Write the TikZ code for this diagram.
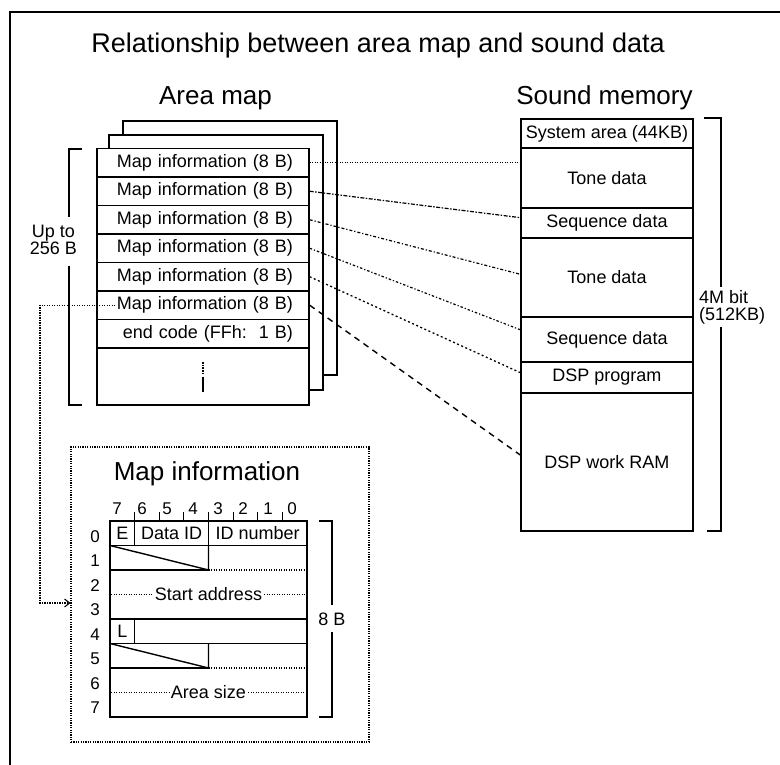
\documentclass[tikz,border=0pt]{standalone}
\usepackage{fontspec}
\setmainfont{Liberation Sans}
\usetikzlibrary{calc,arrows.meta}
\newcommand\sz[1]{\fontsize{#1}{#1}\selectfont}

\begin{document}
\begin{tikzpicture}[x=1pt,y=-1pt,
  frame/.style={line width=1.5pt},
  page/.style={draw,line width=1.5pt,fill=white},
  maprow/.style={draw,line width=1.4pt,fill=white,minimum height=28.5pt,
    text width=180pt,inner xsep=16pt,inner ysep=0pt,align=right,font=\sz{18}},
  memrow/.style={draw,line width=1.4pt,minimum width=172pt,inner sep=0pt,font=\sz{18}},
  cell/.style={draw,line width=1.4pt,inner sep=0pt,minimum height=24.5pt,font=\sz{18}},
  heading/.style={anchor=base,inner sep=0pt},
  txt/.style={font=\sz{18},inner sep=0pt},
  bitnum/.style={font=\sz{17},inner sep=0pt},
  bracket/.style={line width=1.5pt},
  rule/.style={line width=1.4pt},
  fine/.style={line width=1.1pt,dash pattern=on 1.2pt off 1.3pt},
  linkA/.style={line width=1.1pt,dash pattern=on 1.2pt off 1.3pt},
  linkB/.style={line width=1.2pt,dash pattern=on 4pt off 1.5pt on 1.5pt off 1.5pt},
  linkC/.style={line width=1.2pt,dash pattern=on 3pt off 2pt on 1.2pt off 2pt},
  linkD/.style={line width=1.2pt,dash pattern=on 2.5pt off 2pt on 1.2pt off 2pt},
  linkE/.style={line width=1.3pt,dash pattern=on 2pt off 2.5pt},
  linkF/.style={line width=1.4pt,dash pattern=on 6pt off 5pt},
]
\useasboundingbox (0,0) rectangle (780,765);

% outer frame
\draw[frame] (10,765) -- (10,12) -- (780,12);

% titles
\node[heading,font=\sz{27}] (title) at (378,53) {Relationship between area map and sound data};
\node[heading,font=\sz{26}] (amhead) at (215.5,105) {Area map};
\node[heading,font=\sz{26}] (smhead) at (604.5,105) {Sound memory};

% stacked area map pages
\draw[page] (123,121) rectangle (337,375);
\draw[page] (109,135) rectangle (323,390);
\draw[page] (97,148.5) rectangle (309,405);

\node[maprow] (r1) at (203,162.75) {Map information (8 B)};
\node[maprow] (r2) at (203,191.25) {Map information (8 B)};
\node[maprow] (r3) at (203,219.75) {Map information (8 B)};
\node[maprow] (r4) at (203,248.25) {Map information (8 B)};
\node[maprow] (r5) at (203,276.75) {Map information (8 B)};
\node[maprow] (r6) at (203,305.25) {Map information (8 B)};
\node[maprow] (r7) at (203,333.75) {end code (FFh:\ \ 1 B)};

% continuation mark
\draw[line width=1.6pt,dash pattern=on 1.5pt off 1.2pt] (203,362) -- (203,373);
\draw[line width=1.6pt] (203,377) -- (203,392);

% "Up to 256 B" bracket
\node[txt,align=center] (upto) at (53.5,240) {Up to\\[-1pt]256 B};
\draw[bracket] (82,149) -- (69,149) -- (69,217);
\draw[bracket] (69,266) -- (69,405) -- (82,405);

% sound memory
\node[memrow,minimum height=29pt] (sys) at (607,133.5) {System area (44KB)};
\node[memrow,minimum height=60pt] (tone1) at (607,178) {Tone data};
\node[memrow,minimum height=30pt] (seq1) at (607,223) {Sequence data};
\node[memrow,minimum height=79pt] (tone2) at (607,277.5) {Tone data};
\node[memrow,minimum height=45pt] (seq2) at (607,339.5) {Sequence data};
\node[memrow,minimum height=31pt] (dsp) at (607,377.5) {DSP program};
\node[memrow,minimum height=138pt,text depth=0pt] (ram) at (607,462) {DSP work RAM};

% "4M bit" bracket
\node[txt,align=left,anchor=west] (size) at (699,307) {4M bit\\[-1pt](512KB)};
\draw[bracket] (704,118) -- (721,118) -- (721,287);
\draw[bracket] (721,327) -- (721,531) -- (707,531);

% links from the map entries into sound memory
\draw[linkA] (r1.east) -- (r1.east -| tone1.west);
\draw[linkB] (r2.east) -- ($(seq1.north west)!0.33!(seq1.south west)$);
\draw[linkC] (r3.east) -- ($(tone2.north west)!0.46!(tone2.south west)$);
\draw[linkD] (r4.east) -- ($(seq2.north west)!0.29!(seq2.south west)$);
\draw[linkE] (r5.east) -- ($(dsp.north west)!0.35!(dsp.south west)$);
\draw[linkF] (r6.east) -- ($(ram.north west)!0.45!(ram.south west)$);

% map information detail
\node[draw,line width=1.1pt,dash pattern=on 1.2pt off 1.2pt,minimum width=298pt,
  minimum height=295pt,inner sep=0pt] (mibox) at (220,594.5) {};
\node[heading,font=\sz{26}] (mititle) at (207,480) {Map information};

\coordinate (bend) at (40,603);
\draw[fine,-{Straight Barb[length=5pt,width=8pt]}] ([xshift=19pt]r6.west) -| (bend) -- (bend -| mibox.west);

% bit numbers
\foreach \b/\x in {7/117,6/142,5/167,4/193,3/218,2/243,1/268,0/292}
  \node[bitnum] at (\x,509) {\b};
\foreach \k in {1,...,7}
  \draw[line width=1.2pt] (110+24.625*\k,512) -- (110+24.625*\k,521);

% byte numbers
\foreach \r in {0,...,7}
  \node[bitnum] at (95,536.25+24.5*\r) {\r};

% byte 0
\node[cell,minimum width=24.625pt] (ebit) at (122.31,533.25) {E};
\node[cell,minimum width=73.875pt] (dataid) at (171.56,533.25) {Data ID};
\node[cell,minimum width=98.5pt] (idnum) at (257.75,533.25) {ID number};

% byte 1
\draw[rule] (110,545.5) -- (208.5,570) -- (208.5,545.5);
\draw[rule] (110,570) -- (208.5,570);
\draw[fine] (208.5,570) -- (307,570);

% bytes 2-3
\node[txt,fill=white,inner xsep=2pt] (start) at (208.5,594.5) {Start address};
\draw[fine] (111,594.5) -- (start.west);
\draw[fine] (start.east) -- (307,594.5);
\draw[rule] (110,619) -- (307,619);

% byte 4
\node[cell,minimum width=24.625pt] (lbit) at (122.31,631.25) {L};
\draw[rule] (110,643.5) -- (307,643.5);

% byte 5
\draw[rule] (110,643.5) -- (208.5,668) -- (208.5,643.5);
\draw[rule] (110,668) -- (208.5,668);
\draw[fine] (208.5,668) -- (307,668);

% bytes 6-7
\node[txt,fill=white,inner xsep=2pt] (asize) at (208.5,692.5) {Area size};
\draw[fine] (111,692.5) -- (asize.west);
\draw[fine] (asize.east) -- (307,692.5);

% table outline
\draw[rule] (110,521) rectangle (307,717);

% "8 B" bracket
\node[txt] (eightb) at (332,619) {8 B};
\draw[bracket] (319,521) -- (332,521) -- (332,605);
\draw[bracket] (332,632) -- (332,717) -- (319,717);
\end{tikzpicture}
\end{document}
